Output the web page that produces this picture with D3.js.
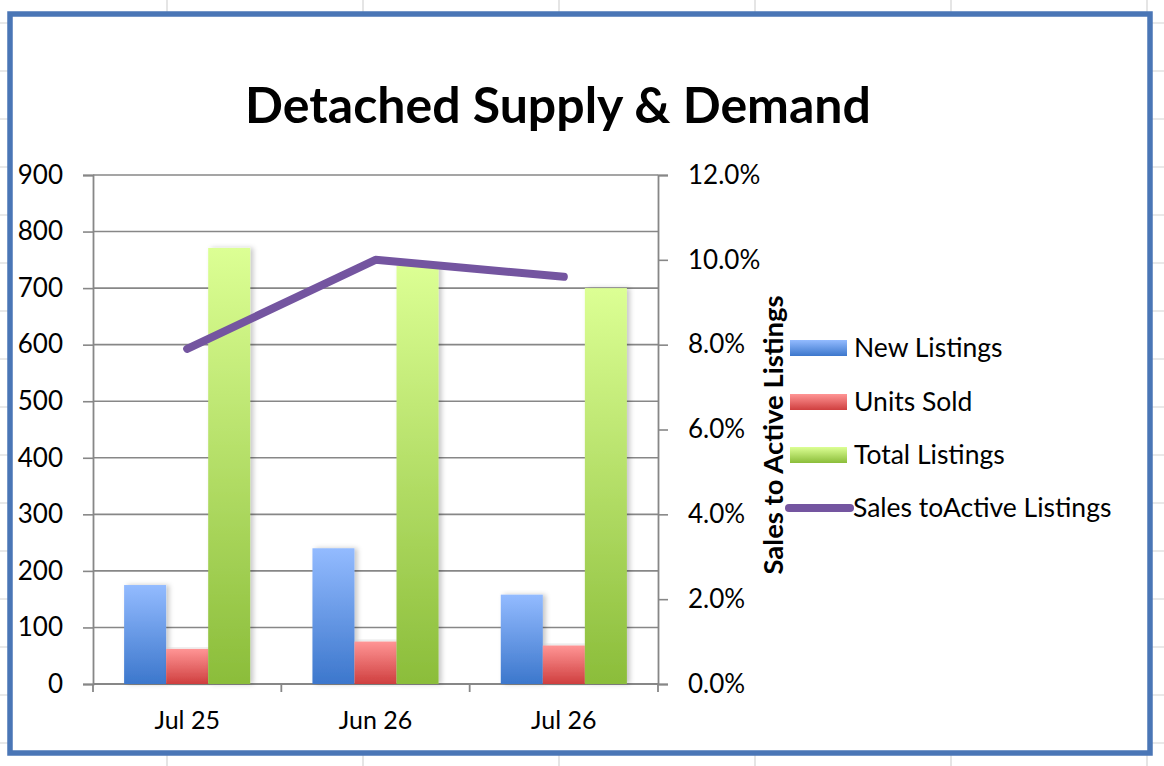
<!DOCTYPE html>
<html>
<head>
<meta charset="utf-8">
<script src="https://cdn.jsdelivr.net/npm/d3@7"></script>
<style>
  html, body { margin: 0; padding: 0; background: #fff; }
  svg { display: block; }
  text { font-family: Lato, "Open Sans", sans-serif; fill: #000; }
</style>
</head>
<body>
<svg id="chart" width="1164" height="766"></svg>
<script>
const categories = ["Jul 25", "Jun 26", "Jul 26"];
const newListings = [175, 240, 158];
const unitsSold = [62, 75, 68];
const totalListings = [771, 740, 700];
const salesToActive = [0.079, 0.100, 0.096];
const leftTicks = [0, 100, 200, 300, 400, 500, 600, 700, 800, 900];
const rightTicks = [0, 0.02, 0.04, 0.06, 0.08, 0.10, 0.12];
const seriesNames = ["New Listings", "Units Sold", "Total Listings", "Sales toActive Listings"];

(function () {
const svg = d3.select("#chart");
const W = 1164, H = 766;

// spreadsheet background grid
const bgV = d3.range(167, W, 196);
const bgH = d3.range(23, H, 48);
svg.append("g").selectAll("line").data(bgV).join("line")
  .attr("x1", d => d).attr("x2", d => d).attr("y1", 0).attr("y2", H)
  .attr("stroke", "#d4d4d4").attr("stroke-width", 1.2);
svg.append("g").selectAll("line").data(bgH).join("line")
  .attr("x1", 0).attr("x2", W).attr("y1", d => d).attr("y2", d => d)
  .attr("stroke", "#d4d4d4").attr("stroke-width", 1.2);

// chart area
svg.append("rect").attr("x", 10).attr("y", 14).attr("width", 1140).attr("height", 739)
  .attr("fill", "#fff").attr("stroke", "#4a76b6").attr("stroke-width", 5.5);

const defs = svg.append("defs");
function grad(id, c1, c2) {
  const g = defs.append("linearGradient").attr("id", id).attr("x1", 0).attr("y1", 0).attr("x2", 0).attr("y2", 1);
  g.append("stop").attr("offset", "0%").attr("stop-color", c1);
  g.append("stop").attr("offset", "100%").attr("stop-color", c2);
}
grad("gBlue", "#93bbff", "#3c77cc");
grad("gRed", "#ff9595", "#cf3f3f");
grad("gGreen", "#dcff94", "#8bbd3a");
const shadow = defs.append("filter").attr("id", "shadow").attr("x", "-20%").attr("y", "-5%").attr("width", "160%").attr("height", "110%");
shadow.append("feDropShadow").attr("dx", 3).attr("dy", 0).attr("stdDeviation", 2.5)
  .attr("flood-color", "#000").attr("flood-opacity", 0.22);

const pLeft = 93, pRight = 658, pTop = 175, pBottom = 684;
const x = d3.scaleBand().domain(categories).range([pLeft, pRight]).paddingInner(0).paddingOuter(0);
const yL = d3.scaleLinear().domain([0, 900]).range([pBottom, pTop]);
const yR = d3.scaleLinear().domain([0, 0.12]).range([pBottom, pTop]);
const inner = d3.scaleBand().domain([0, 1, 2]).range([0, x.bandwidth()]).paddingOuter(0.74).paddingInner(0);

// gridlines
svg.append("g").selectAll("line").data(leftTicks.filter(d => d > 0)).join("line")
  .attr("x1", pLeft).attr("x2", pRight).attr("y1", d => yL(d)).attr("y2", d => yL(d))
  .attr("stroke", "#878787").attr("stroke-width", 1.6);

// axes
const axL = svg.append("g").attr("transform", `translate(${pLeft},0)`)
  .call(d3.axisLeft(yL).tickValues(leftTicks).tickSize(10).tickPadding(20).tickFormat(d3.format("d")));
const axR = svg.append("g").attr("transform", `translate(${pRight},0)`)
  .call(d3.axisRight(yR).tickValues(rightTicks).tickSize(10).tickPadding(20).tickFormat(d3.format(".1%")));
const axB = svg.append("g").attr("transform", `translate(0,${pBottom})`)
  .call(d3.axisBottom(x).tickSize(0).tickPadding(27));
svg.append("g").selectAll("line").data(d3.range(categories.length + 1)).join("line")
  .attr("x1", i => pLeft + i * x.bandwidth()).attr("x2", i => pLeft + i * x.bandwidth())
  .attr("y1", pBottom).attr("y2", pBottom + 8).attr("stroke", "#878787").attr("stroke-width", 1.8);

[axL, axR, axB].forEach(a => {
  a.selectAll("path.domain").attr("stroke", "#878787").attr("stroke-width", 1.8);
  a.selectAll(".tick line").attr("stroke", "#878787").attr("stroke-width", 1.6);
  a.selectAll("text").attr("font-size", 26).attr("font-family", "Lato, sans-serif").attr("fill", "#000");
});
axB.selectAll("text").attr("font-size", 25);
axB.select("path.domain").attr("d", `M${pLeft},0H${pRight}`);

// bars
const series = [
  { vals: newListings, fill: "url(#gBlue)" },
  { vals: unitsSold, fill: "url(#gRed)" },
  { vals: totalListings, fill: "url(#gGreen)" }
];
const barG = svg.append("g");
series.forEach((s, si) => {
  barG.append("g").selectAll("rect").data(s.vals).join("rect")
    .attr("x", (d, i) => x(categories[i]) + inner(si))
    .attr("y", d => yL(d))
    .attr("width", inner.bandwidth())
    .attr("height", d => pBottom - yL(d))
    .attr("fill", s.fill)
    .attr("filter", "url(#shadow)");
});

// line
const line = d3.line().x((d, i) => x(categories[i]) + x.bandwidth() / 2).y(d => yR(d));
svg.append("path").datum(salesToActive).attr("d", line)
  .attr("fill", "none").attr("stroke", "#7455a0").attr("stroke-width", 8)
  .attr("stroke-linecap", "round").attr("stroke-linejoin", "round");

// title
svg.append("text").attr("x", 558).attr("y", 123).attr("text-anchor", "middle")
  .attr("font-size", 50).attr("font-weight", "bold").text("Detached Supply & Demand");

// right axis title
svg.append("text").attr("transform", "translate(783,435) rotate(-90)").attr("text-anchor", "middle")
  .attr("font-size", 27.5).attr("font-weight", "bold").text("Sales to Active Listings");

// legend
const legY = [348, 402, 455, 508];
const legFills = ["url(#gBlue)", "url(#gRed)", "url(#gGreen)"];
const leg = svg.append("g");
legFills.forEach((f, i) => {
  leg.append("rect").attr("x", 790).attr("y", legY[i] - 8).attr("width", 57).attr("height", 16).attr("fill", f);
});
leg.append("line").attr("x1", 789).attr("x2", 850).attr("y1", legY[3]).attr("y2", legY[3])
  .attr("stroke", "#7455a0").attr("stroke-width", 8).attr("stroke-linecap", "round");
leg.selectAll("text").data(seriesNames).join("text")
  .attr("x", (d, i) => i === 3 ? 853 : 854).attr("y", (d, i) => legY[i]).attr("dy", "0.35em")
  .attr("font-size", 26.5).text(d => d);
})();
</script>
</body>
</html>
